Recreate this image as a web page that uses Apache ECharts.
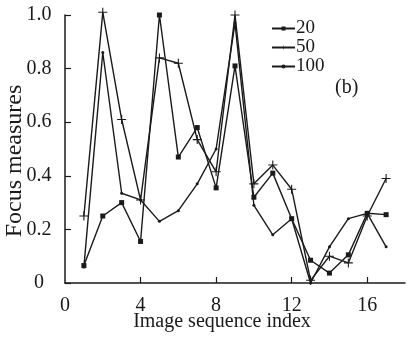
<!DOCTYPE html>
<html>
<head>
<meta charset="utf-8">
<script src="https://cdn.jsdelivr.net/npm/echarts@6/dist/echarts.min.js"></script>
<style>
  html, body { margin: 0; padding: 0; background: #fff; }
  #chart { width: 410px; height: 338px; }
</style>
</head>
<body>
<div id="chart"></div>
<script>
// image index on x, focus measure for each window size
const imageIndex = [1, 2, 3, 4, 5, 6, 7, 8, 9, 10, 11, 12, 13, 14, 15, 16, 17];
const focus20 = [0.065, 0.25, 0.30, 0.155, 1.0, 0.47, 0.58, 0.355, 0.81, 0.32, 0.41, 0.24, 0.085, 0.037, 0.105, 0.26, 0.255];
const focus50 = [0.25, 1.01, 0.61, 0.31, 0.84, 0.82, 0.535, 0.415, 1.0, 0.37, 0.44, 0.35, 0.01, 0.10, 0.075, 0.25, 0.39];
const focus100 = [0.06, 0.86, 0.335, 0.31, 0.23, 0.27, 0.37, 0.50, 0.97, 0.29, 0.18, 0.24, 0.0, 0.135, 0.24, 0.26, 0.135];
const seriesNames = ['20', '50', '100'];
const xTicks = [0, 4, 8, 12, 16];

const ink = '#1a1a1a';
const serif = 'Liberation Serif';
const plusPath = 'path://M-0.6,-5H0.6V-0.6H5V0.6H0.6V5H-0.6V0.6H-5V-0.6H-0.6Z';

function pairs(vals) {
    return vals.map((v, i) => [imageIndex[i], v]);
}

function makeSeries(name, vals, symbol, size) {
    return {
        name: name,
        type: 'line',
        data: pairs(vals),
        symbol: symbol,
        symbolSize: size,
        showSymbol: true,
        clip: false,
        itemStyle: { color: ink, borderColor: ink, borderWidth: 0 },
        lineStyle: { color: ink, width: 1.4 },
        emphasis: { disabled: true },
        animation: false
    };
}

const chart = echarts.init(document.getElementById('chart'));
chart.setOption({
    animation: false,
    grid: { left: 65, right: 5, top: 15, bottom: 55, containLabel: false, outerBoundsMode: 'none' },
    title: {
        text: '(b)',
        left: 335,
        top: 78,
        padding: 0,
        textStyle: { fontFamily: serif, fontSize: 20, fontWeight: 'normal', color: ink }
    },
    legend: {
        orient: 'vertical',
        left: 271,
        top: 19,
        padding: 0,
        itemGap: 0,
        itemWidth: 23,
        itemHeight: 5,
        data: seriesNames,
        textStyle: { fontFamily: serif, fontSize: 19, color: ink, lineHeight: 13, padding: [0, 0, 0, -4] }
    },
    xAxis: {
        type: 'value',
        min: 0,
        max: 18,
        name: 'Image sequence index',
        nameLocation: 'middle',
        nameGap: 29,
        nameMoveOverlap: false,
        nameTextStyle: { fontFamily: serif, fontSize: 20, color: ink, padding: [0, 26, 0, 0] },
        axisLine: { show: true, lineStyle: { color: ink, width: 1.5 } },
        axisTick: { inside: true, length: 6, customValues: xTicks.slice(1), lineStyle: { color: ink, width: 1.2 } },
        axisLabel: { customValues: xTicks, margin: 13, fontFamily: serif, fontSize: 20, color: ink },
        splitLine: { show: false }
    },
    yAxis: {
        type: 'value',
        min: 0,
        max: 1,
        interval: 0.2,
        name: 'Focus measures',
        nameLocation: 'middle',
        nameGap: 38,
        nameMoveOverlap: false,
        nameTextStyle: { fontFamily: serif, fontSize: 24, color: ink, padding: [0, 0, 0, -24] },
        axisLine: { show: true, lineStyle: { color: ink, width: 1.5 } },
        axisTick: { inside: true, length: 6, lineStyle: { color: ink, width: 1.2 } },
        axisLabel: {
            margin: 26,
            align: 'center',
            fontFamily: serif,
            fontSize: 20,
            color: ink,
            formatter: v => (v === 0 ? '0' : v.toFixed(1))
        },
        splitLine: { show: false }
    },
    series: [
        makeSeries('20', focus20, 'rect', 5),
        makeSeries('50', focus50, plusPath, 9),
        makeSeries('100', focus100, 'circle', 3)
    ]
});
</script>
</body>
</html>
